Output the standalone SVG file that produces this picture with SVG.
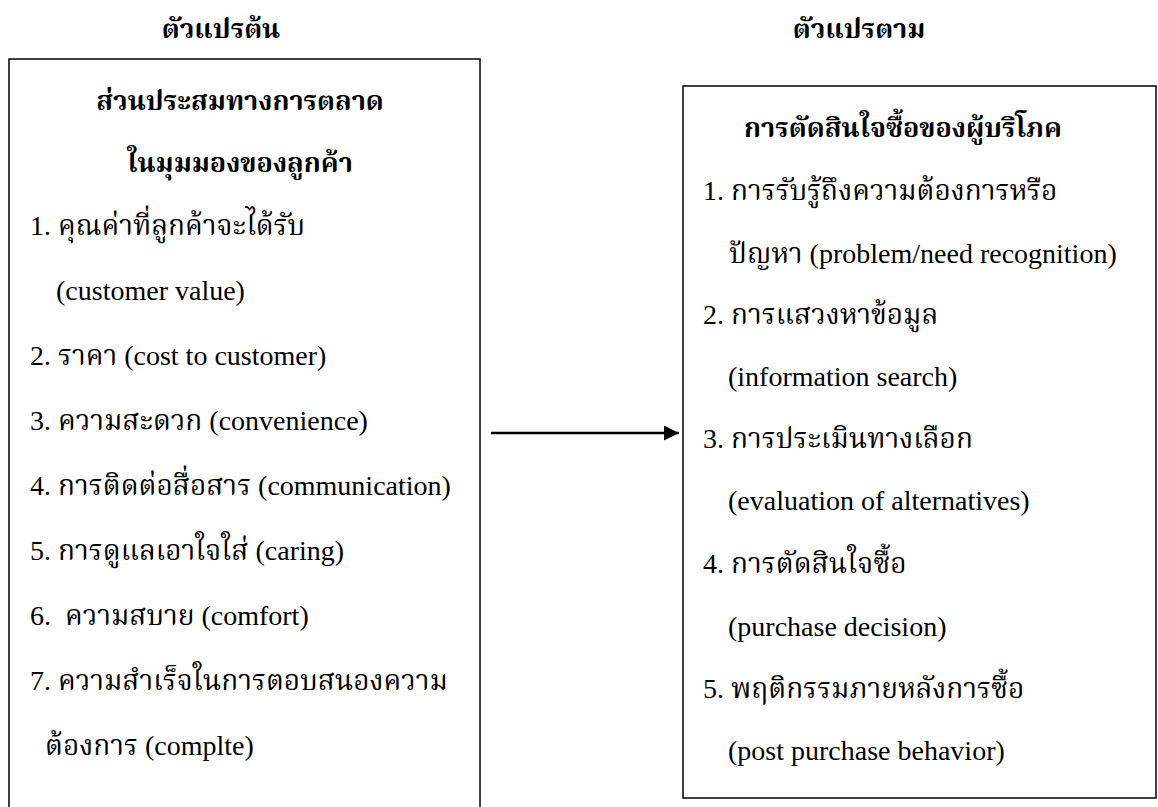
<svg xmlns="http://www.w3.org/2000/svg" width="1158" height="807" viewBox="0 0 1158 807">
<defs>
<style>
text{font-family:"Liberation Serif","Norasi","Kinnari","Noto Serif Thai","Noto Sans Thai","Loma","Garuda",serif;font-size:28px;fill:#000}
.h{font-weight:bold;text-anchor:middle;font-size:27px}
.box{fill:#fff;stroke:#000;stroke-width:1.5}
</style>
<marker id="ah" markerWidth="15" markerHeight="15" refX="15" refY="7.5" orient="auto" markerUnits="userSpaceOnUse">
<path d="M0,0 L15,7.5 L0,15 Z" fill="#000"/>
</marker>
</defs>
<rect width="1158" height="807" fill="#fff"/>
<text class="h" x="221" y="38">ตัวแปรต้น</text>
<text class="h" x="859" y="38">ตัวแปรตาม</text>
<g id="independent">
<rect class="box" x="9" y="59" width="471" height="780"/>
<text class="h" x="240" y="110">ส่วนประสมทางการตลาด</text>
<text class="h" x="240" y="172">ในมุมมองของลูกค้า</text>
<text x="30" y="235">1. คุณค่าที่ลูกค้าจะได้รับ</text>
<text x="56" y="300">(customer value)</text>
<text x="30" y="365">2. ราคา (cost to customer)</text>
<text x="30" y="430">3. ความสะดวก (convenience)</text>
<text x="30" y="495">4. การติดต่อสื่อสาร (communication)</text>
<text x="30" y="560">5. การดูแลเอาใจใส่ (caring)</text>
<text x="30" y="625" xml:space="preserve">6.  ความสบาย (comfort)</text>
<text x="30" y="690">7. ความสำเร็จในการตอบสนองความ</text>
<text x="45" y="755">ต้องการ (complte)</text>
</g>
<g id="dependent">
<rect class="box" x="683" y="86" width="473" height="712"/>
<text class="h" x="903" y="137">การตัดสินใจซื้อของผู้บริโภค</text>
<text x="703" y="200">1. การรับรู้ถึงความต้องการหรือ</text>
<text x="729" y="263">ปัญหา (problem/need recognition)</text>
<text x="703" y="324">2. การแสวงหาข้อมูล</text>
<text x="728" y="386">(information search)</text>
<text x="703" y="448">3. การประเมินทางเลือก</text>
<text x="728" y="510">(evaluation of alternatives)</text>
<text x="703" y="573">4. การตัดสินใจซื้อ</text>
<text x="728" y="636">(purchase decision)</text>
<text x="703" y="698">5. พฤติกรรมภายหลังการซื้อ</text>
<text x="728" y="760">(post purchase behavior)</text>
</g>
<g id="connectors">
<line x1="491" y1="433" x2="679" y2="433" stroke="#000" stroke-width="2.5" marker-end="url(#ah)"/>
</g>
</svg>
